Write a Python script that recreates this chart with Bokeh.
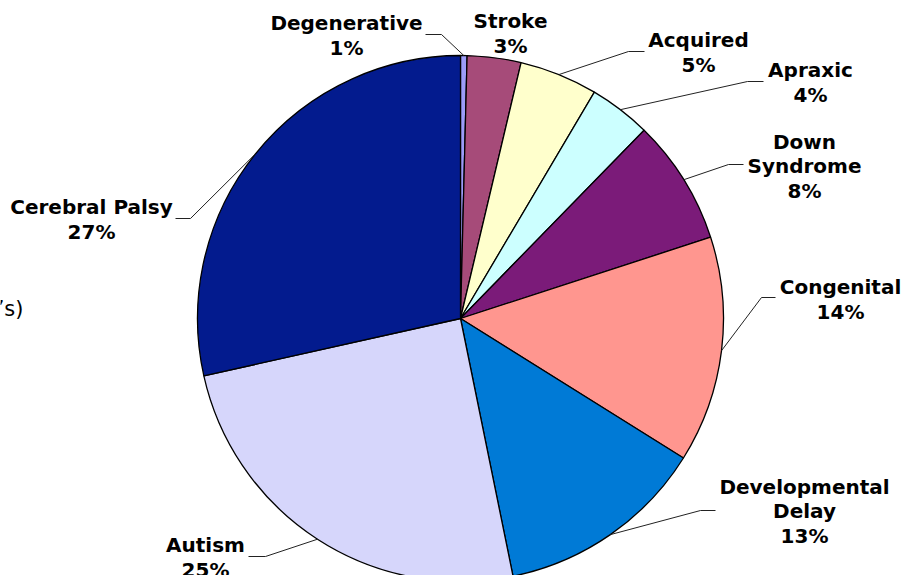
import math
from bokeh.plotting import figure
from bokeh.models import Range1d
from bokeh.core.properties import value
from bokeh.embed import file_html
from bokeh.resources import INLINE

# ---- data ----
categories = ["Degenerative", "Stroke", "Acquired", "Apraxic", "Down\nSyndrome",
              "Congenital", "Developmental\nDelay", "Autism", "Cerebral Palsy"]
values = [0.4, 3.3, 4.8, 3.8, 7.7, 13.9, 12.9, 24.7, 28.5]
pct_labels = ["1%", "3%", "5%", "4%", "8%", "14%", "13%", "25%", "27%"]
colors = ["#9C9CF8", "#A64B79", "#FFFFCC", "#CCFFFF", "#7B1B79",
          "#FF968F", "#007AD6", "#D6D6FB", "#031B8E"]

# ---- layout (page pixels) ----
W, H = 901, 575
def X(px): return px
def Y(py): return H - py

cx, cy, R = 460, 318, 263
label_pos = [(346, 35), (510, 33), (698, 52), (810, 82), (804, 166),
             (840, 299), (804, 511), (205, 557), (91, 219)]
leader_pts = [[(441, 34), (425, 34)], None, [(628, 51), (644, 51)],
              [(747, 81), (763, 81)], [(728, 164), (743, 164)],
              [(761, 297), (775, 297)], [(700, 510), (715, 510)],
              [(265, 556), (248, 556)], [(190, 218), (175, 218)]]

p = figure(width=W, height=H, output_backend="svg", toolbar_location=None,
           x_range=Range1d(0, W), y_range=Range1d(0, H), min_border=0)
p.axis.visible = False
p.grid.visible = False
p.outline_line_color = None
p.background_fill_color = "white"

total = sum(values)
cum = 0.0
starts, ends, mids = [], [], []
for v in values:
    a0 = cum / total
    cum += v
    a1 = cum / total
    starts.append(math.pi / 2 - 2 * math.pi * a0)
    ends.append(math.pi / 2 - 2 * math.pi * a1)
    mids.append((a0 + a1) / 2)

p.wedge(x=[X(cx)] * len(values), y=[Y(cy)] * len(values), radius=R,
        start_angle=starts, end_angle=ends, direction="clock",
        fill_color=colors, line_color="black", line_width=1.3)

# leaders
for m, pts in zip(mids, leader_pts):
    if pts is None:
        continue
    ang = 2 * math.pi * m
    sx = cx + R * math.sin(ang)
    sy = cy - R * math.cos(ang)
    xs = [X(sx)] + [X(a) for a, b in pts]
    ys = [Y(sy)] + [Y(b) for a, b in pts]
    p.line(xs, ys, line_color="#222222", line_width=1)

texts = [c + "\n" + pc for c, pc in zip(categories, pct_labels)]
p.text(x=[X(a) for a, b in label_pos], y=[Y(b) for a, b in label_pos], text=texts,
       text_font=value("DejaVu Sans"), text_font_style="bold", text_font_size="20px",
       text_align="center", text_baseline="middle", text_line_height=1.03,
       text_color="black")

# partially visible text at left edge
p.text(x=[X(23)], y=[Y(308)], text=["\u2019s)"], text_font=value("DejaVu Sans"),
       text_font_size="21px", text_align="right", text_baseline="middle",
       text_color="black")

open("out.html", "w").write(file_html(p, INLINE))
